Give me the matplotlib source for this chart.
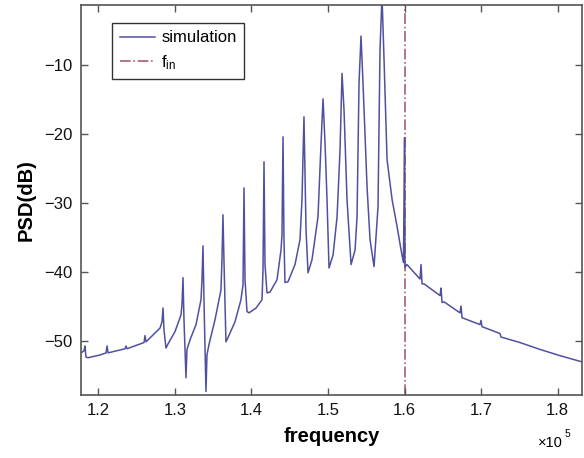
import numpy as np
import matplotlib
matplotlib.use("Agg")
import matplotlib.pyplot as plt
from matplotlib.ticker import FixedLocator, FuncFormatter

# ---- data (frequency in units of 1e5 Hz, PSD in dB) ----
freq_e5 = [1.1774, 1.1813, 1.1826, 1.1839, 1.1865, 1.2022, 1.2101, 1.2114, 1.2127,
           1.2349, 1.2362, 1.2375, 1.2597, 1.2610, 1.2623, 1.2806, 1.2832, 1.2845,
           1.2858, 1.2884, 1.2911, 1.3002, 1.3080, 1.3093, 1.3106, 1.3119, 1.3145,
           1.3158, 1.3198, 1.3276, 1.3341, 1.3354, 1.3367, 1.3380, 1.3406, 1.3419,
           1.3445, 1.3524, 1.3602, 1.3615, 1.3628, 1.3641, 1.3667, 1.3693, 1.3785,
           1.3863, 1.3890, 1.3903, 1.3916, 1.3942, 1.3968, 1.4060, 1.4138, 1.4151,
           1.4164, 1.4177, 1.4203, 1.4242, 1.4334, 1.4386, 1.4399, 1.4412, 1.4425,
           1.4438, 1.4477, 1.4569, 1.4634, 1.4660, 1.4686, 1.4713, 1.4739, 1.4791,
           1.4869, 1.4909, 1.4935, 1.4961, 1.4987, 1.5013, 1.5066, 1.5118, 1.5157,
           1.5183, 1.5209, 1.5248, 1.5301, 1.5353, 1.5379, 1.5405, 1.5431, 1.5457,
           1.5510, 1.5549, 1.5601, 1.5653, 1.5679, 1.5705, 1.5732, 1.5771, 1.5837,
           1.5902, 1.5954, 1.5985, 1.6000, 1.6005, 1.6032, 1.6071, 1.6202, 1.6215,
           1.6228, 1.6254, 1.6463, 1.6476, 1.6489, 1.6515, 1.6724, 1.6737, 1.6750,
           1.6985, 1.6998, 1.7011, 1.7246, 1.7259, 1.7507, 1.7768, 1.8030, 1.8317]
psd_db = [-51.7, -51.4, -50.7, -52.3, -52.4, -52.0, -51.7, -50.7, -51.7,
          -51.1, -50.7, -51.1, -50.2, -49.2, -50.1, -48.1, -47.2, -45.2,
          -48.4, -51.0, -50.4, -48.6, -46.2, -44.7, -40.8, -46.9, -55.3,
          -51.2, -49.8, -47.6, -44.0, -41.1, -36.2, -44.0, -57.3, -52.0,
          -50.5, -46.9, -42.6, -38.2, -31.7, -38.2, -50.1, -49.5, -47.2,
          -44.0, -41.8, -27.8, -41.1, -45.7, -45.9, -45.2, -44.0, -39.7,
          -24.0, -38.9, -43.0, -42.9, -41.1, -36.8, -34.6, -20.4, -35.3,
          -41.5, -41.4, -38.9, -35.3, -29.5, -17.5, -33.9, -40.1, -38.2,
          -32.0, -21.3, -14.9, -21.3, -29.5, -39.4, -37.5, -32.0, -22.3,
          -11.2, -16.5, -29.5, -38.9, -36.8, -32.0, -12.6, -5.8, -12.6,
          -27.7, -35.3, -39.2, -30.5, -7.8, 0.0, -9.3, -23.7, -29.5,
          -33.4, -36.8, -38.6, -20.5, -39.3, -38.9, -39.4, -41.0, -38.9,
          -41.7, -41.7, -43.4, -42.3, -44.4, -44.3, -45.9, -44.9, -46.6,
          -47.6, -47.0, -47.9, -48.9, -49.4, -50.2, -51.2, -52.1, -53.0]
f_in_e5 = 1.6
xtick_vals = [1.2, 1.3, 1.4, 1.5, 1.6, 1.7, 1.8]
ytick_vals = [-50, -40, -30, -20, -10]
series_labels = ["simulation", "f$_{\\rm in}$"]

# ---- style ----
plt.rcParams['font.family'] = ['Liberation Sans', 'DejaVu Sans']
plt.rcParams['mathtext.fontset'] = 'custom'
plt.rcParams['mathtext.rm'] = 'Liberation Sans'
plt.rcParams['mathtext.it'] = 'Liberation Sans:italic'

sim_color = '#5050a0'
fin_color = '#a8606e'
spine_color = '#555555'

fig = plt.figure(figsize=(5.84, 4.58), dpi=100)
ax = fig.add_axes([81/584, 63/458, 501/584, 390/458])

freq = np.array(freq_e5) * 1e5
vl = ax.axvline(f_in_e5 * 1e5, color=fin_color, ls='-.', lw=1.2, zorder=1,
                label=series_labels[1])
ln, = ax.plot(freq, psd_db, color=sim_color, lw=1.1, zorder=2,
              label=series_labels[0])

ax.set_xlim(1.1774e5, 1.8317e5)
ax.set_ylim(-57.8, -1.3)
ax.xaxis.set_major_locator(FixedLocator([v * 1e5 for v in xtick_vals]))
ax.xaxis.set_major_formatter(FuncFormatter(lambda v, p: f"{v/1e5:.1f}"))
ax.yaxis.set_major_locator(FixedLocator(ytick_vals))

ax.tick_params(direction='in', length=5, width=1, colors=spine_color,
               labelcolor='#111111', labelsize=12, top=True, right=True, pad=6)
for s in ax.spines.values():
    s.set_color(spine_color)
    s.set_linewidth(1.2)

ax.set_xlabel("frequency", fontsize=14.5, fontweight='bold', labelpad=6)
ax.set_ylabel("PSD(dB)", fontsize=14.5, fontweight='bold', labelpad=6)
fig.text(538/584, 1 - 447/458, "×10", fontsize=10.5, ha='left', va='baseline')
fig.text(565/584, 1 - 437/458, "5", fontsize=7.5, ha='left', va='baseline')

leg = ax.legend(handles=[ln, vl], loc='upper left',
                bbox_to_anchor=((112 - 81) / 501, (395 - 23) / 390),
                fontsize=12, frameon=True, fancybox=False, framealpha=1,
                edgecolor='#333333', handlelength=2.1, handletextpad=0.4,
                labelspacing=0.45, borderpad=0.45, borderaxespad=0)
leg.get_frame().set_linewidth(1.0)

fig.savefig("out.png", dpi=100)
